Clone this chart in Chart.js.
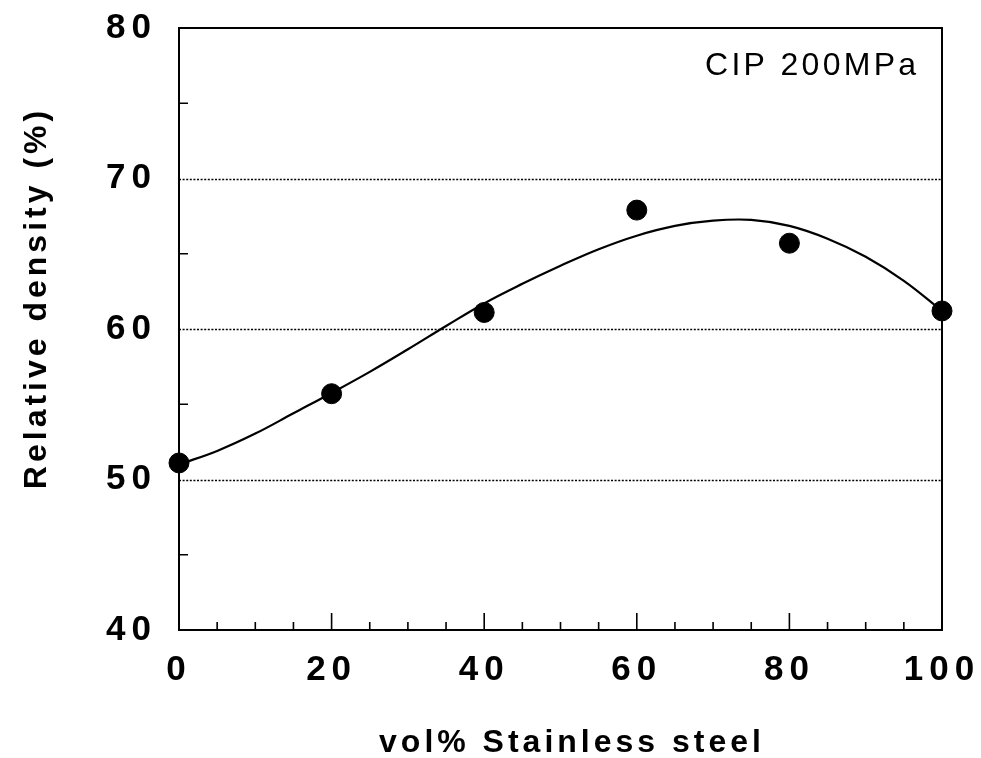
<!DOCTYPE html>
<html>
<head>
<meta charset="utf-8">
<title>Relative density vs vol% Stainless steel</title>
<script src="https://cdn.jsdelivr.net/npm/chart.js@4"></script>
<style>
  html, body { margin: 0; padding: 0; background: #fff; }
</style>
</head>
<body>
<canvas id="densityChart" width="981" height="758"></canvas>
<script>
// ================= DATA =================

// measured compacts (CIP 200MPa)
const volPercent = [0, 20, 40, 60, 80, 100];
const relDensity = [51.1, 55.7, 61.1, 67.9, 65.7, 61.2];

// fitted curve, read every 5 vol%
const fitVol = [0, 5, 10, 15, 20, 25, 30, 35, 40, 45, 50, 55, 60, 65, 70, 75, 80, 85, 90, 95, 100];
const fitDensity = [51.0, 51.9, 53.05, 54.4, 55.75, 57.15, 58.65, 60.2, 61.7, 63.0, 64.2, 65.3, 66.2, 66.85, 67.2, 67.25, 66.85, 66.0, 64.8, 63.2, 61.2];

// axis ticks
const xLabels = [0, 20, 40, 60, 80, 100];
const xMajorMarks = [20, 40, 60, 80];
const xMinorMarks = [5, 10, 15, 25, 30, 35, 45, 50, 55, 65, 70, 75, 85, 90, 95];
const yLabels = [40, 50, 60, 70, 80];
const yMinorMarks = [45, 55, 65, 75];
const dottedLevels = [50, 60, 70];

const FONT = '"Liberation Sans", Arial, Helvetica, sans-serif';

// ================= PLUGINS =================

// wide letter spacing for the tick numbers
const spacedTicks = {
    id: 'spacedTicks',
    beforeDraw(chart) {
        chart.ctx.letterSpacing = '6px';
    },
    beforeDatasetsDraw(chart) {
        chart.ctx.letterSpacing = '0px';
    }
};

// box, dotted levels and inward tick marks
const frame = {
    id: 'frame',
    beforeDatasetsDraw(chart) {
        const ctx = chart.ctx;
        const a = chart.chartArea;
        const x = chart.scales.x, y = chart.scales.y;
        ctx.save();
        ctx.strokeStyle = '#000';

        ctx.lineWidth = 1.5;
        ctx.setLineDash([2, 1.6]);
        dottedLevels.forEach(v => {
            const py = Math.round(y.getPixelForValue(v)) + 0.5;
            ctx.beginPath();
            ctx.moveTo(a.left, py);
            ctx.lineTo(a.right, py);
            ctx.stroke();
        });

        ctx.setLineDash([]);
        ctx.lineWidth = 2;
        ctx.strokeRect(a.left, a.top, a.right - a.left, a.bottom - a.top);

        ctx.lineWidth = 1.6;
        ctx.beginPath();
        yMinorMarks.forEach(v => {
            const py = y.getPixelForValue(v);
            ctx.moveTo(a.left, py);
            ctx.lineTo(a.left + 9, py);
        });
        xMinorMarks.forEach(v => {
            const px = x.getPixelForValue(v);
            ctx.moveTo(px, a.bottom);
            ctx.lineTo(px, a.bottom - 8);
        });
        xMajorMarks.forEach(v => {
            const px = x.getPixelForValue(v);
            ctx.moveTo(px, a.bottom);
            ctx.lineTo(px, a.bottom - 17);
        });
        ctx.stroke();
        ctx.restore();
    }
};

// axis titles and the pressure note
const captions = {
    id: 'captions',
    afterDraw(chart) {
        const ctx = chart.ctx;
        ctx.save();
        ctx.fillStyle = '#000';
        ctx.textBaseline = 'middle';

        ctx.letterSpacing = '4px';
        ctx.font = 'bold 32px ' + FONT;
        ctx.textAlign = 'center';
        ctx.fillText('vol% Stainless steel', 572, 743);

        ctx.save();
        ctx.translate(37, 298);
        ctx.rotate(-Math.PI / 2);
        ctx.fillText('Relative density (%)', 0, 0);
        ctx.restore();

        ctx.letterSpacing = '3.3px';
        ctx.font = '32px ' + FONT;
        ctx.textAlign = 'left';
        ctx.fillText('CIP 200MPa', 705, 66);
        ctx.restore();
    }
};

// keep the plot box where the layout padding puts it
function noLabelPadding(s) {
    s.paddingTop = 0;
    s.paddingBottom = 0;
    s.paddingLeft = 0;
    s.paddingRight = 0;
}

// ================= CHART =================

const ctx = document.getElementById('densityChart');

new Chart(ctx, {
    type: 'scatter',
    data: {
        datasets: [
            {
                label: 'measured',
                data: volPercent.map((v, i) => ({ x: v, y: relDensity[i] })),
                pointRadius: 10,
                pointHoverRadius: 10,
                pointBackgroundColor: '#000',
                pointBorderColor: '#000',
                showLine: false,
                clip: false,
                order: 0
            },
            {
                label: 'fit',
                data: fitVol.map((v, i) => ({ x: v, y: fitDensity[i] })),
                showLine: true,
                borderColor: '#000',
                borderWidth: 2.2,
                pointRadius: 0,
                tension: 0.4,
                clip: false,
                order: 1
            }
        ]
    },
    options: {
        responsive: false,
        animation: false,
        devicePixelRatio: 1,
        layout: { padding: { top: 28, right: 39, left: 0, bottom: 0 } },
        plugins: {
            legend: { display: false },
            tooltip: { enabled: false }
        },
        scales: {
            x: {
                type: 'linear',
                min: 0,
                max: 100,
                afterBuildTicks: s => { s.ticks = xLabels.map(v => ({ value: v })); },
                afterFit: s => { s.height = 128; noLabelPadding(s); },
                grid: { display: false },
                border: { display: false },
                ticks: {
                    color: '#000',
                    padding: 11,
                    maxRotation: 0,
                    autoSkip: false,
                    font: { family: FONT, size: 35, weight: 'bold' }
                }
            },
            y: {
                type: 'linear',
                min: 40,
                max: 80,
                afterBuildTicks: s => { s.ticks = yLabels.map(v => ({ value: v })); },
                afterFit: s => { s.width = 179; noLabelPadding(s); },
                grid: { display: false },
                border: { display: false },
                ticks: {
                    color: '#000',
                    padding: 14,
                    autoSkip: false,
                    font: { family: FONT, size: 35, weight: 'bold' }
                }
            }
        }
    },
    plugins: [spacedTicks, frame, captions]
});
</script>
</body>
</html>
